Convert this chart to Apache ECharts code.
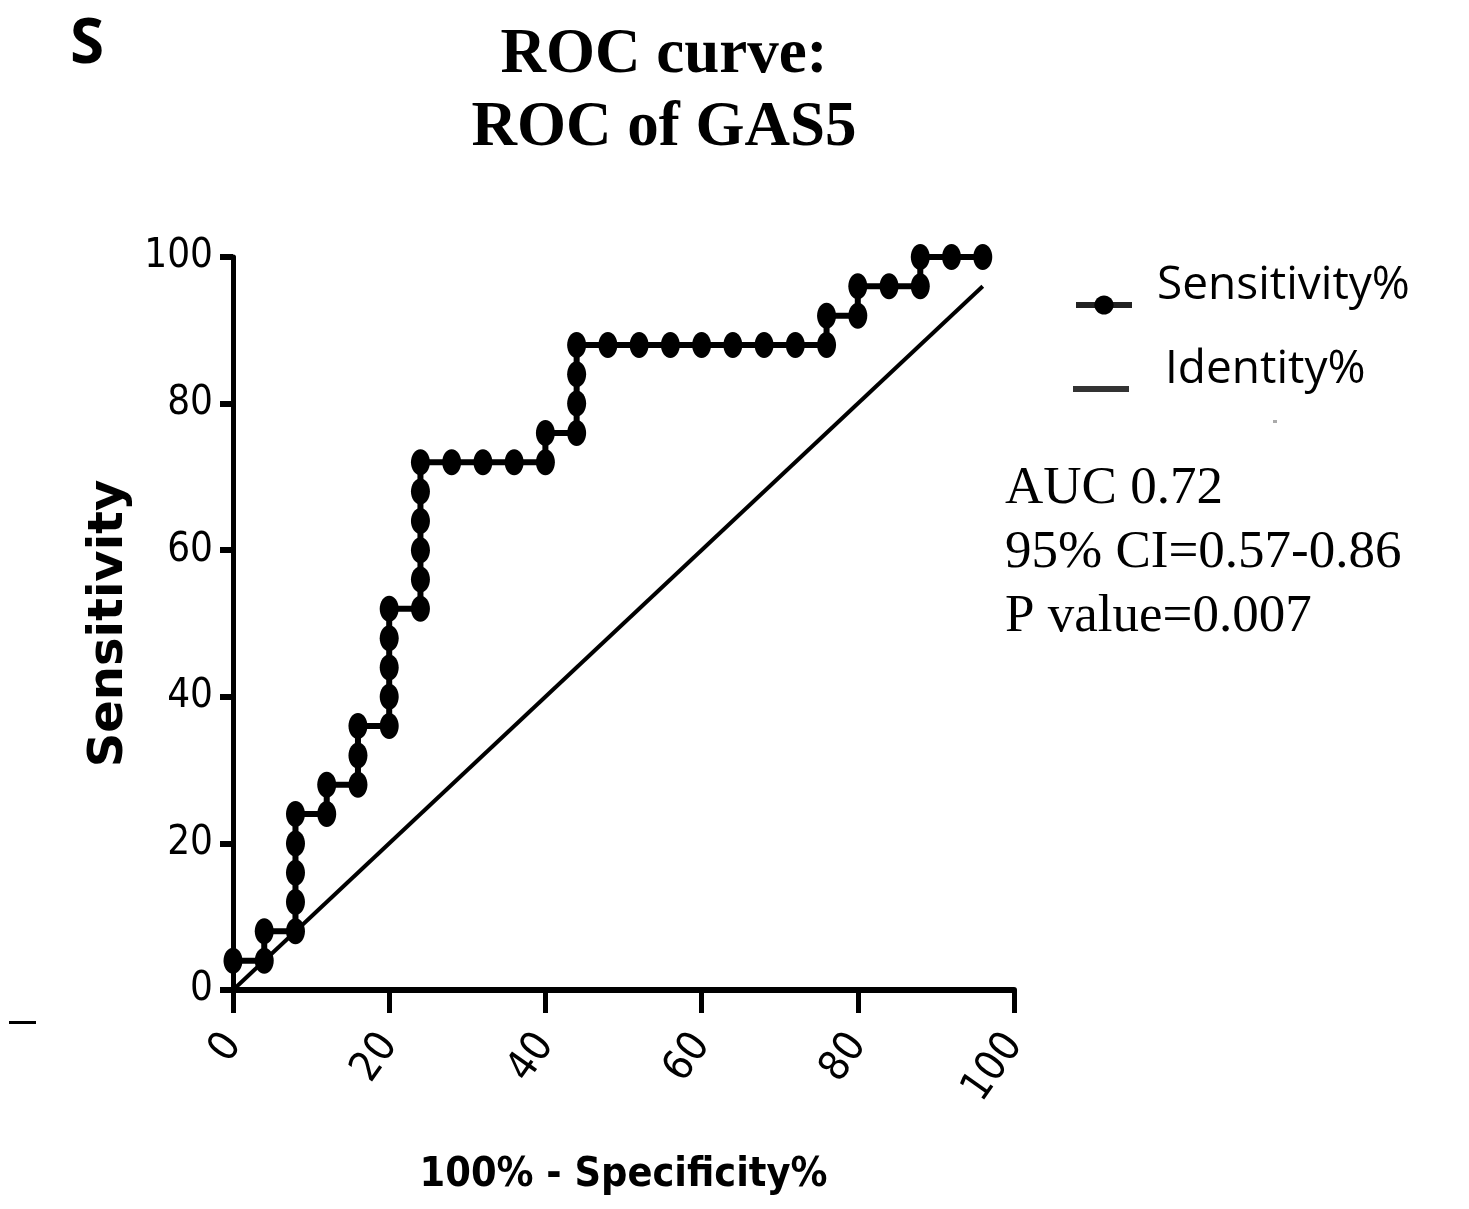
<!DOCTYPE html>
<html>
<head>
<meta charset="utf-8">
<title>ROC of GAS5</title>
<script src="https://cdn.jsdelivr.net/npm/echarts@6.0.0/dist/echarts.min.js"></script>
<style>
    html, body { margin: 0; padding: 0; background: #fff; }
    #roc { width: 1469px; height: 1209px; }
</style>
</head>
<body>
<div id="roc"></div>
<script>
// 100% - Specificity% / Sensitivity% at each cut-off of GAS5
var specX = [0, 4, 4, 8, 8, 8, 8, 8, 12, 12, 16, 16, 16, 20, 20, 20, 20, 20, 24, 24, 24, 24, 24, 24,
    28, 32, 36, 40, 40, 44, 44, 44, 44, 48, 52, 56, 60, 64, 68, 72, 76, 76, 80, 80, 84, 88, 88, 92, 96];
var sensY = [4, 4, 8, 8, 12, 16, 20, 24, 24, 28, 28, 32, 36, 36, 40, 44, 48, 52, 52, 56, 60, 64, 68, 72,
    72, 72, 72, 72, 76, 76, 80, 84, 88, 88, 88, 88, 88, 88, 88, 88, 88, 92, 92, 96, 96, 96, 100, 100, 100];
// chance line
var identityX = [0, 96];
var identityY = [0, 96];

var xTicks = [0, 20, 40, 60, 80, 100];
var yTicks = [0, 20, 40, 60, 80, 100];

var statLines = ['AUC 0.72', '95% CI=0.57-0.86', 'P value=0.007'];

var rocChart = (function () {
    var narrow = "'Liberation Sans Narrow', 'DejaVu Sans Condensed', 'Liberation Sans', sans-serif";
    var legendFont = "'Open Sans', sans-serif";
    // ellipse marker (the figure is stretched vertically)
    var dot = 'path://M0,-1C0.5523,-1 1,-0.5523 1,0C1,0.5523 0.5523,1 0,1C-0.5523,1 -1,0.5523 -1,0C-1,-0.5523 -0.5523,-1 0,-1Z';

    var toPairs = function (xs, ys) {
        var out = [];
        for (var i = 0; i < xs.length; i++) {
            out.push([xs[i], ys[i]]);
        }
        return out;
    };

    // legend label sits a bit above its icon, done with rich padding
    var legendText = function (padLeft) {
        return {
            rich: {
                s: {
                    fontFamily: legendFont,
                    fontSize: 46,
                    color: '#000',
                    padding: [0, 0, 38, padLeft]
                }
            }
        };
    };

    var chart = echarts.init(document.getElementById('roc'));

    var option = {
        animation: false,
        backgroundColor: '#fff',
        title: {
            text: 'ROC curve:\nROC of GAS5',
            left: 664,
            top: 19,
            padding: 0,
            textAlign: 'center',
            textStyle: {
                fontFamily: "'Liberation Serif', 'Times New Roman', serif",
                fontWeight: 'bold',
                fontSize: 63,
                lineHeight: 73,
                color: '#000'
            }
        },
        legend: [{
            data: ['Sensitivity%'],
            orient: 'vertical',
            left: 1068,
            top: 258,
            selectedMode: false,
            itemWidth: 56,
            itemHeight: 24,
            lineStyle: { color: '#222', width: 6 },
            formatter: '{s|{name}}',
            textStyle: legendText(20)
        }, {
            data: ['Identity%'],
            orient: 'vertical',
            left: 1068,
            top: 342,
            selectedMode: false,
            icon: 'rect',
            itemWidth: 56,
            itemHeight: 6,
            itemStyle: { color: '#333' },
            formatter: '{s|{name}}',
            textStyle: legendText(31)
        }],
        grid: {
            left: 233,
            right: 455,
            top: 257,
            bottom: 219,
            containLabel: false,
            outerBoundsMode: 'none'
        },
        xAxis: {
            type: 'value',
            min: xTicks[0],
            max: xTicks[xTicks.length - 1],
            interval: xTicks[1] - xTicks[0],
            splitLine: { show: false },
            axisLine: { show: true, onZero: false, lineStyle: { color: '#000', width: 6 } },
            axisTick: { show: true, length: 23, lineStyle: { color: '#000', width: 5 } },
            axisLabel: {
                rotate: 55,
                margin: 48,
                fontFamily: narrow,
                fontSize: 42,
                color: '#000'
            },
            name: '100% - Specificity%',
            nameLocation: 'middle',
            nameGap: 165,
            nameTextStyle: { fontFamily: narrow, fontWeight: 'bold', fontSize: 41, color: '#000' }
        },
        yAxis: {
            type: 'value',
            min: yTicks[0],
            max: yTicks[yTicks.length - 1],
            interval: yTicks[1] - yTicks[0],
            splitLine: { show: false },
            axisLine: { show: true, onZero: false, lineStyle: { color: '#000', width: 5 } },
            axisTick: { show: true, length: 13, lineStyle: { color: '#000', width: 6 } },
            axisLabel: {
                margin: 20,
                fontFamily: narrow,
                fontSize: 40,
                color: '#000'
            },
            name: 'Sensitivity',
            nameLocation: 'middle',
            nameGap: 87,
            nameTextStyle: { fontFamily: "'DejaVu Sans', sans-serif", fontWeight: 'bold', fontSize: 48, color: '#000' }
        },
        series: [{
            name: 'Sensitivity%',
            type: 'line',
            data: toPairs(specX, sensY),
            symbol: dot,
            symbolSize: [19, 26],
            showAllSymbol: true,
            clip: false,
            z: 3,
            lineStyle: { color: '#000', width: 6 },
            itemStyle: { color: '#000' }
        }, {
            name: 'Identity%',
            type: 'line',
            data: toPairs(identityX, identityY),
            symbol: 'none',
            z: 2,
            lineStyle: { color: '#000', width: 4 }
        }],
        graphic: [{
            type: 'text',
            left: 70,
            top: 14,
            style: {
                text: 'S',
                fontFamily: "'Noto Sans', sans-serif",
                fontWeight: 'bold',
                fontSize: 62,
                fill: '#000'
            }
        }, {
            type: 'text',
            left: 1005,
            top: 457,
            style: {
                text: statLines.join('\n'),
                fontFamily: "'Liberation Serif', 'Times New Roman', serif",
                fontSize: 53,
                lineHeight: 64,
                fill: '#000'
            }
        }, {
            type: 'rect',
            left: 9,
            top: 1021,
            shape: { width: 27, height: 3 },
            style: { fill: '#000' }
        }, {
            type: 'rect',
            left: 1273,
            top: 420,
            shape: { width: 4, height: 3 },
            style: { fill: '#aaa' }
        }]
    };

    chart.setOption(option);
    return chart;
}());
</script>
</body>
</html>
